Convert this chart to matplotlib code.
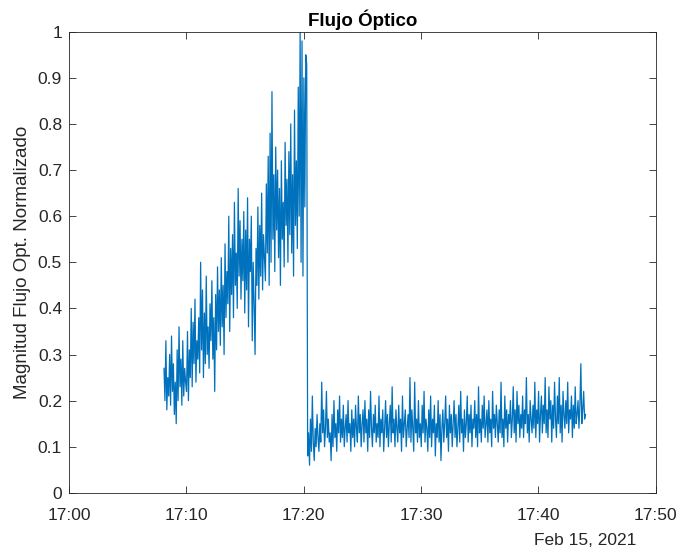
import numpy as np
import pandas as pd
import matplotlib
matplotlib.use("Agg")
import matplotlib.pyplot as plt
import matplotlib.dates as mdates

plt.rcParams['font.family'] = ['Liberation Sans', 'DejaVu Sans']

# muestras cada 4.8 s desde 17:08:06
start = "2021-02-15 17:08:06"
step_s = 4.8

pre = [0.27, 0.20, 0.33, 0.18, 0.25, 0.21, 0.30, 0.19, 0.34, 0.22, 0.28, 0.17,
       0.24, 0.15, 0.31, 0.20, 0.36, 0.23, 0.29, 0.19, 0.33, 0.21, 0.27, 0.24,
       0.22, 0.35, 0.20, 0.31, 0.25, 0.40, 0.23, 0.37, 0.28, 0.42, 0.24, 0.33,
       0.29, 0.38, 0.26, 0.50, 0.31, 0.44, 0.25, 0.39, 0.28, 0.47, 0.30, 0.36,
       0.27, 0.41, 0.33, 0.46, 0.29, 0.38, 0.22, 0.43, 0.31, 0.49, 0.35, 0.44,
       0.32, 0.51, 0.36, 0.45, 0.30, 0.54, 0.38, 0.48, 0.41, 0.60, 0.35, 0.53,
       0.43, 0.56, 0.38, 0.63, 0.45, 0.52, 0.40, 0.66, 0.47, 0.59, 0.42, 0.55,
       0.46, 0.61, 0.39, 0.57, 0.44, 0.64, 0.36, 0.55, 0.48, 0.60, 0.33, 0.50,
       0.41, 0.30, 0.53, 0.45, 0.62, 0.42, 0.58, 0.47, 0.65, 0.44, 0.56, 0.51,
       0.46, 0.67, 0.52, 0.73, 0.45, 0.78, 0.50, 0.87, 0.55, 0.69, 0.48, 0.75,
       0.57, 0.70, 0.51, 0.66, 0.45, 0.72, 0.55, 0.63, 0.49, 0.76, 0.58, 0.68,
       0.50, 0.74, 0.56, 0.80, 0.52, 0.69, 0.47, 0.83, 0.58, 0.72, 0.53, 0.88,
       0.60, 1.00, 0.50, 0.98, 0.47, 0.90, 0.62, 0.95, 0.93]

post = [0.08, 0.13, 0.06, 0.16, 0.09, 0.21, 0.11, 0.07, 0.14, 0.10, 0.17, 0.12,
        0.09, 0.15, 0.11, 0.24, 0.13, 0.18, 0.10, 0.14, 0.22, 0.12, 0.16, 0.11,
        0.13, 0.07, 0.17, 0.10, 0.20, 0.12, 0.15, 0.09, 0.18, 0.13, 0.21, 0.11,
        0.16, 0.12, 0.19, 0.10, 0.14, 0.17, 0.11, 0.20, 0.13, 0.15, 0.09, 0.18,
        0.12, 0.16, 0.10, 0.19, 0.14, 0.11, 0.21, 0.13, 0.17, 0.10, 0.15, 0.18,
        0.11, 0.20, 0.13, 0.16, 0.09, 0.18, 0.12, 0.22, 0.14, 0.10, 0.17, 0.13,
        0.19, 0.11, 0.15, 0.12, 0.21, 0.10, 0.16, 0.13, 0.18, 0.09, 0.14, 0.20,
        0.12, 0.17, 0.10, 0.15, 0.19, 0.11, 0.23, 0.13, 0.16, 0.10, 0.18, 0.14,
        0.11, 0.19, 0.13, 0.16, 0.09, 0.21, 0.12, 0.15, 0.18, 0.10, 0.14, 0.17,
        0.12, 0.25, 0.11, 0.18, 0.14, 0.09, 0.24, 0.13, 0.16, 0.11, 0.20, 0.12,
        0.15, 0.10, 0.19, 0.13, 0.22, 0.11, 0.16, 0.14, 0.09, 0.18, 0.12, 0.21,
        0.10, 0.16, 0.13, 0.19, 0.08, 0.15, 0.12, 0.20, 0.11, 0.17, 0.07, 0.14,
        0.18, 0.11, 0.15, 0.21, 0.12, 0.16, 0.09, 0.19, 0.13, 0.17, 0.10, 0.15,
        0.20, 0.12, 0.17, 0.10, 0.14, 0.19, 0.11, 0.22, 0.13, 0.16, 0.09, 0.18,
        0.12, 0.15, 0.21, 0.11, 0.17, 0.13, 0.19, 0.10, 0.16, 0.14, 0.20, 0.12,
        0.17, 0.10, 0.23, 0.13, 0.16, 0.11, 0.19, 0.14, 0.21, 0.12, 0.15, 0.18,
        0.11, 0.20, 0.13, 0.16, 0.10, 0.22, 0.14, 0.17, 0.12, 0.19, 0.15, 0.11,
        0.18, 0.13, 0.24, 0.12, 0.16, 0.10, 0.21, 0.14, 0.18, 0.11, 0.17, 0.15,
        0.20, 0.12, 0.16, 0.23, 0.13, 0.18, 0.11, 0.22, 0.15, 0.19, 0.12, 0.17,
        0.14, 0.21, 0.12, 0.18, 0.15, 0.25, 0.13, 0.17, 0.11, 0.20, 0.16, 0.13,
        0.19, 0.14, 0.24, 0.12, 0.18, 0.15, 0.22, 0.11, 0.17, 0.21, 0.13, 0.19,
        0.15, 0.25, 0.13, 0.18, 0.12, 0.23, 0.16, 0.20, 0.11, 0.19, 0.14, 0.24,
        0.16, 0.12, 0.21, 0.15, 0.25, 0.13, 0.19, 0.11, 0.22, 0.17, 0.14, 0.20,
        0.15, 0.24, 0.13, 0.18, 0.16, 0.21, 0.12, 0.19, 0.14, 0.23, 0.15, 0.17,
        0.20, 0.14, 0.19, 0.28, 0.15, 0.18, 0.22, 0.16, 0.17]

values = np.array(pre + post)
times = pd.date_range(start, periods=len(values), freq=pd.Timedelta(seconds=step_s))

xticks = pd.date_range("2021-02-15 17:00", "2021-02-15 17:50", freq="10min")
yticks = np.round(np.arange(0, 1.01, 0.1), 1)

fig = plt.figure(figsize=(6.76, 5.47), dpi=100)
ax = fig.add_axes([0.102, 0.099, 0.868, 0.843])

ax.plot(times, values, color='#0072BD', lw=0.9)

ax.set_xlim(xticks[0], xticks[-1])
ax.set_ylim(0, 1)
ax.set_xticks(xticks)
ax.xaxis.set_major_formatter(mdates.DateFormatter('%H:%M'))
ax.set_yticks(yticks)
ax.set_yticklabels([f'{v:g}' for v in yticks])

ax.tick_params(direction='in', top=True, right=True, length=5, width=0.6,
               color='#262626', labelcolor='#262626', labelsize=12.5)
ax.tick_params(axis='x', pad=11)
ax.tick_params(axis='y', pad=5)
for s in ax.spines.values():
    s.set_color('#262626')
    s.set_linewidth(0.6)

ax.set_title('Flujo Óptico', fontsize=13.5, fontweight='bold', color='black', pad=4)
ax.set_ylabel('Magnitud Flujo Opt. Normalizado', fontsize=13.5, color='#262626', labelpad=5)
ax.text(0.967, -0.088, 'Feb 15, 2021', transform=ax.transAxes, ha='right', va='top',
        fontsize=12.5, color='#262626')

fig.savefig('out.png', dpi=100)
